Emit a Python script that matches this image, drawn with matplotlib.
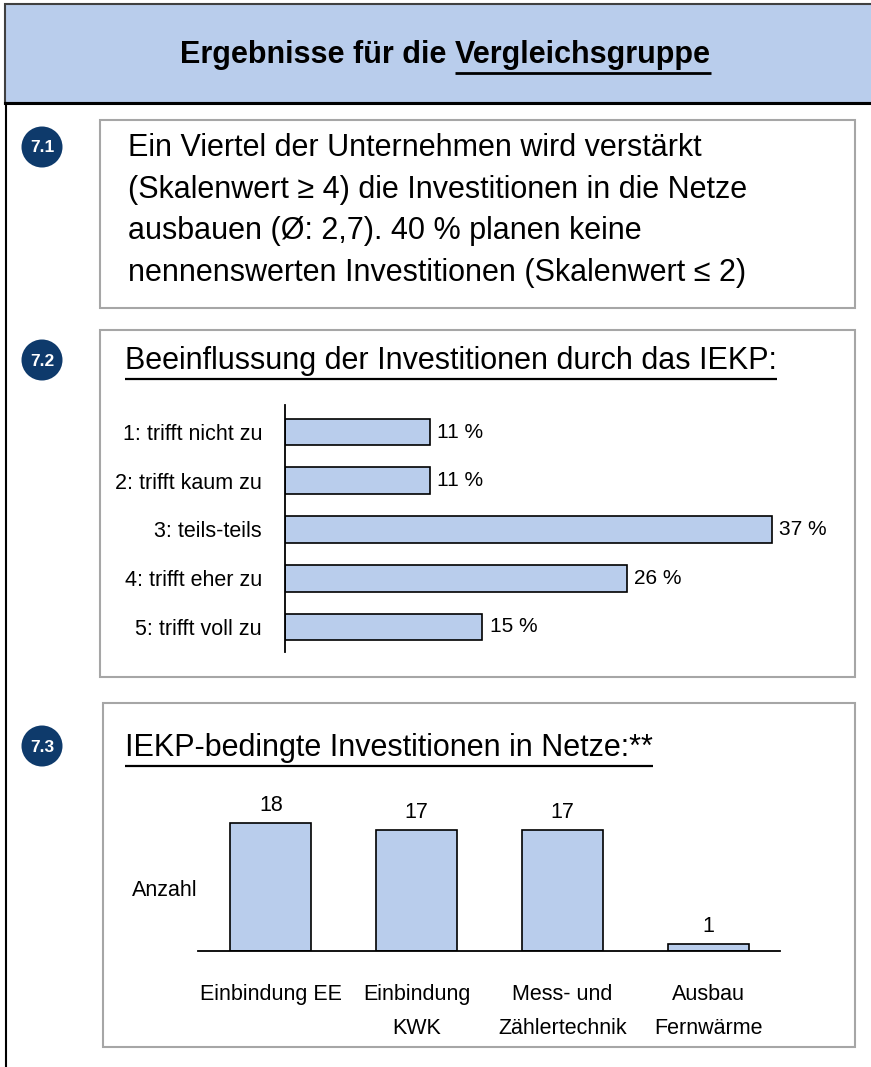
import matplotlib
matplotlib.use("Agg")
import matplotlib.pyplot as plt
from matplotlib.patches import Rectangle, Circle

# Daten
kategorien_72 = ["1: trifft nicht zu", "2: trifft kaum zu", "3: teils-teils",
                 "4: trifft eher zu", "5: trifft voll zu"]
werte_72 = [11, 11, 37, 26, 15]

kategorien_73 = ["Einbindung EE", "Einbindung\nKWK", "Mess- und\nZählertechnik", "Ausbau\nFernwärme"]
werte_73 = [18, 17, 17, 1]

text_71 = ["Ein Viertel der Unternehmen wird verstärkt",
           "(Skalenwert ≥ 4) die Investitionen in die Netze",
           "ausbauen (Ø: 2,7). 40 % planen keine",
           "nennenswerten Investitionen (Skalenwert ≤ 2)"]

BLAU_HELL = "#B9CDEC"
NAVY = "#0E3A6B"
GRAU = "#A6A6A6"

plt.rcParams["font.family"] = ["Liberation Sans", "DejaVu Sans"]

W, H = 871, 1067
fig = plt.figure(figsize=(W / 100, H / 100), dpi=100)

# Grundebene in Pixelkoordinaten
base = fig.add_axes([0, 0, 1, 1])
base.set_xlim(0, W)
base.set_ylim(H, 0)
base.axis("off")


def px_axes(x0, y0, x1, y1):
    return fig.add_axes([x0 / W, 1 - y1 / H, (x1 - x0) / W, (y1 - y0) / H])


def unterstreichen(txt, dy=4, lw=1.8):
    fig.canvas.draw()
    bb = txt.get_window_extent(renderer=fig.canvas.get_renderer())
    inv = base.transData.inverted()
    (xa, ya), (xb, yb) = inv.transform([(bb.x0, bb.y0), (bb.x1, bb.y1)])
    base.plot([xa, xb], [ya + dy, ya + dy], color="black", lw=lw, solid_capstyle="butt")


# Kopfbereich
base.add_patch(Rectangle((5, 4), W, 99, facecolor=BLAU_HELL, edgecolor="#404040", lw=1.5))
base.plot([5, W], [103, 103], color="black", lw=2.2)
base.plot([5.5, 5.5], [103, H], color="black", lw=1.5)
t1 = base.text(180, 55, "Ergebnisse für die ", fontsize=22, fontweight="bold", ha="left", va="center")
fig.canvas.draw()
bb = t1.get_window_extent(renderer=fig.canvas.get_renderer())
x_end = base.transData.inverted().transform((bb.x1, bb.y0))[0]
t2 = base.text(x_end, 55, "Vergleichsgruppe", fontsize=22, fontweight="bold", ha="left", va="center")
unterstreichen(t2, dy=3, lw=2)

# Nummernkreise
for nr, y in [("7.1", 147), ("7.2", 360), ("7.3", 746)]:
    base.add_patch(Circle((42, y), 20.5, facecolor=NAVY, edgecolor="none"))
    base.text(42, y + 1, nr, color="white", fontsize=12.5, fontweight="bold", ha="center", va="center")

# Kasten 7.1
base.add_patch(Rectangle((100, 120), 755, 188, facecolor="white", edgecolor=GRAU, lw=1.5))
for i, zeile in enumerate(text_71):
    base.text(128, 148 + i * 41.7, zeile, fontsize=22, ha="left", va="center")

# Kasten 7.2
base.add_patch(Rectangle((100, 330), 755, 347, facecolor="white", edgecolor=GRAU, lw=1.5))
t = base.text(125, 361, "Beeinflussung der Investitionen durch das IEKP:", fontsize=22, ha="left", va="center")
unterstreichen(t, dy=3, lw=1.6)

ax2 = px_axes(285, 405, 785, 652)
pos = list(range(len(werte_72)))
ax2.barh(pos, werte_72, height=0.55, color=BLAU_HELL, edgecolor="black", linewidth=1.2)
ax2.set_xlim(0, 500 / 13.16)
ax2.set_ylim(4.513, -0.554)
for s in ["top", "right", "bottom"]:
    ax2.spines[s].set_visible(False)
ax2.spines["left"].set_linewidth(1.3)
ax2.set_xticks([])
ax2.set_yticks(pos)
ax2.set_yticklabels(kategorien_72, fontsize=15.5)
ax2.tick_params(axis="y", length=0, pad=16.5)
ax2.patch.set_alpha(0)
for p, v in zip(pos, werte_72):
    ax2.text(v + 0.55, p, f"{v} %", fontsize=15, ha="left", va="center")

# Kasten 7.3
base.add_patch(Rectangle((103, 703), 752, 344, facecolor="white", edgecolor=GRAU, lw=1.5))
t = base.text(125, 748, "IEKP-bedingte Investitionen in Netze:**", fontsize=22, ha="left", va="center")
unterstreichen(t, dy=3, lw=1.6)

ax3 = px_axes(198, 790, 780, 951)
pos3 = list(range(len(werte_73)))
ax3.bar(pos3, werte_73, width=0.556, color=BLAU_HELL, edgecolor="black", linewidth=1.2)
ax3.set_xlim(-0.501, 3.494)
ax3.set_ylim(0, 161 / 7.1)
for s in ["top", "right", "left"]:
    ax3.spines[s].set_visible(False)
ax3.spines["bottom"].set_linewidth(1.3)
ax3.set_yticks([])
ax3.set_xticks(pos3)
ax3.set_xticklabels(kategorien_73, fontsize=15.5, linespacing=1.8, va="top")
ax3.tick_params(axis="x", length=0, pad=24)
ax3.patch.set_alpha(0)
for p, v in zip(pos3, werte_73):
    ax3.text(p, v + 1.0, str(v), fontsize=15.5, ha="center", va="bottom")
base.text(165, 891, "Anzahl", fontsize=15.5, ha="center", va="center")

fig.savefig("out.png", dpi=100)
